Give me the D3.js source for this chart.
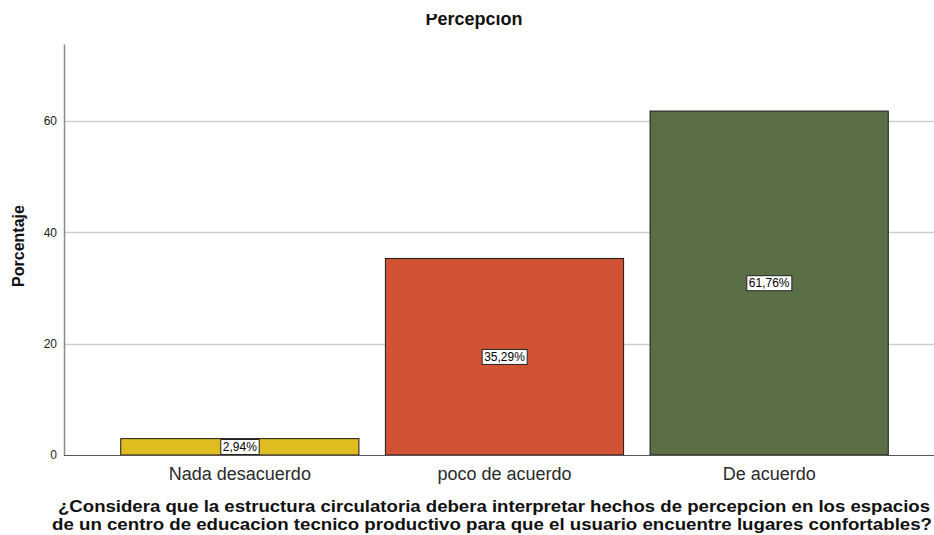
<!DOCTYPE html>
<html><head><meta charset="utf-8">
<script src="https://cdn.jsdelivr.net/npm/d3@7"></script>
<style>body{margin:0;background:#fff}svg{display:block}</style>
</head><body>
<svg id="c" width="934" height="535"></svg>
<script>
const categories = ["Nada desacuerdo", "poco de acuerdo", "De acuerdo"];
const values = [2.94, 35.29, 61.76];
const valueLabels = ["2,94%", "35,29%", "61,76%"];
const colors = ["#dfbc1f", "#d25333", "#5b6f47"];
const yTicks = [0, 20, 40, 60];
const title = "Percepcion";
const yTitle = "Porcentaje";
const xTitleLines = ["¿Considera que la estructura circulatoria debera interpretar hechos de percepcion en los espacios",
  "de un centro de educacion tecnico productivo para que el usuario encuentre lugares confortables?"];

const svg = d3.select("#c");
const font = "Arial, 'Liberation Sans', sans-serif";
const x0 = 64, x1 = 934, yBase = 455;
const y = d3.scaleLinear().domain([0, 73.8]).range([yBase, 44]);
const x = d3.scaleBand().domain(categories).range([107.5, 901.5]).paddingInner(0.1).paddingOuter(0.05);

// gridlines
svg.append("g").selectAll("line").data(yTicks.filter(d => d > 0)).join("line")
  .attr("x1", x0).attr("x2", x1).attr("y1", d => Math.round(y(d)) + 0.5).attr("y2", d => Math.round(y(d)) + 0.5)
  .attr("stroke", "#cfcfcf").attr("stroke-width", 1.5);

// y axis
const yAxis = d3.axisLeft(y).tickValues(yTicks).tickSize(0).tickPadding(7);
const ga = svg.append("g").attr("transform", `translate(${x0},0)`).call(yAxis);
ga.select(".domain").attr("stroke", "#8a8a8a").attr("stroke-width", 1.5);
ga.selectAll("text").attr("font-family", font).attr("font-size", 12).attr("fill", "#222");

// bars
svg.append("g").selectAll("rect").data(values).join("rect")
  .attr("x", (d, i) => x(categories[i])).attr("width", x.bandwidth())
  .attr("y", d => y(d)).attr("height", d => yBase - y(d))
  .attr("fill", (d, i) => colors[i]).attr("stroke", "#1a1a1a").attr("stroke-width", 1);

// x axis
const xAxis = d3.axisBottom(x).tickSize(0).tickPadding(12);
const gx = svg.append("g").attr("transform", `translate(0,${yBase})`).call(xAxis);
gx.select(".domain").remove();
svg.append("line").attr("x1", x0).attr("x2", x1).attr("y1", yBase + 0.5).attr("y2", yBase + 0.5)
  .attr("stroke", "#555").attr("stroke-width", 1.2);
gx.selectAll("text").attr("font-family", font).attr("font-size", 18).attr("fill", "#2a2a2a");

// value labels
const lg = svg.append("g").selectAll("g").data(values).join("g")
  .attr("transform", (d, i) => `translate(${x(categories[i]) + x.bandwidth() / 2},${(y(d) + yBase) / 2})`);
lg.each(function(d, i) {
  const g = d3.select(this);
  const t = g.append("text").text(valueLabels[i]).attr("font-family", font).attr("font-size", 12)
    .attr("text-anchor", "middle").attr("dy", "0.35em").attr("fill", "#000");
  const bb = t.node().getBBox();
  g.insert("rect", "text").attr("x", bb.x - 2).attr("y", bb.y - 0.5).attr("width", bb.width + 4).attr("height", bb.height + 1)
    .attr("fill", "#fff").attr("stroke", "#222").attr("stroke-width", 1);
});

// title (clipped at top)
svg.append("text").attr("x", 474).attr("y", 25).attr("text-anchor", "middle")
  .attr("font-family", font).attr("font-size", 18).attr("font-weight", "bold").attr("fill", "#111").text(title);
svg.append("rect").attr("x", 380).attr("y", 0).attr("width", 190).attr("height", 14).attr("fill", "#fff");

// y title
svg.append("text").attr("transform", "translate(24,246) rotate(-90)").attr("text-anchor", "middle")
  .attr("font-family", font).attr("font-size", 16).attr("font-weight", "bold").attr("fill", "#111").text(yTitle);

// x title
const xl = [[58, 930, 512], [52, 932, 530]];
xTitleLines.forEach((s, i) => {
  svg.append("text").attr("x", xl[i][0]).attr("y", xl[i][2]).attr("textLength", xl[i][1] - xl[i][0])
    .attr("lengthAdjust", "spacingAndGlyphs")
    .attr("font-family", font).attr("font-size", 16).attr("font-weight", "bold").attr("fill", "#111").text(s);
});
</script>
</body></html>
